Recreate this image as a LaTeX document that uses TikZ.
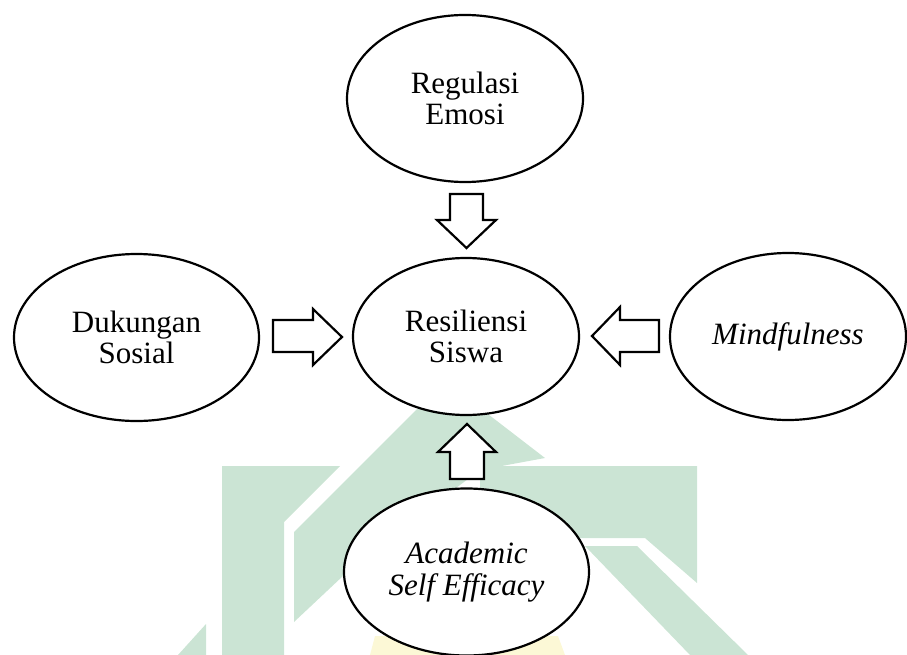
\documentclass[tikz,border=0pt]{standalone}
\usepackage{fontspec}
\setmainfont{Liberation Serif}
\usetikzlibrary{shapes.geometric}
\definecolor{wmgreen}{RGB}{203,228,212}
\definecolor{wmyellow}{RGB}{252,248,214}
\begin{document}
\begin{tikzpicture}[x=1pt,y=-1pt,
  ell/.style={ellipse, draw, line width=2.2pt, fill=white, inner sep=0pt, align=center,
              font=\fontsize{31}{31.5}\selectfont},
  blockarrow/.style={draw, line width=2.2pt, fill=white, line join=miter}]
\path[use as bounding box] (0,0) rectangle (907,655);
% watermark (faint logo)
\fill[wmgreen] (222,466) -- (340,466) -- (284,522) -- (284,655) -- (222,655) -- cycle;
\fill[wmgreen] (178,655) -- (206,624) -- (206,655) -- cycle;
\fill[wmgreen] (294,622) -- (294,532) -- (445,381) -- (545,458) -- (480,470) -- (360,560) -- cycle;
\fill[wmgreen] (480,466) -- (697,466) -- (697,583) -- (645,538) -- (560,538) -- (480,520) -- cycle;
\fill[wmgreen] (585,546) -- (637,546) -- (748,655) -- (690,655) -- cycle;
\fill[wmyellow] (375,636) -- (558,636) -- (565,655) -- (370,655) -- cycle;
% nodes
\node[ell, minimum width=236pt, minimum height=167pt] (reg) at (465,98.5) {Regulasi\\Emosi};
\node[ell, minimum width=226pt, minimum height=157pt] (res) at (466,336.5) {Resiliensi\\Siswa};
\node[ell, minimum width=245pt, minimum height=167pt] (duk) at (136.5,337.5) {Dukungan\\Sosial};
\node[ell, minimum width=236pt, minimum height=167pt] (min) at (788,336.5) {\itshape Mindfulness};
\node[ell, minimum width=245pt, minimum height=167pt] (ase) at (466.5,572) {\itshape Academic\\\itshape Self Efficacy};
% block arrows
\draw[blockarrow] (450,194) -- (483,194) -- (483,220) -- (496,220) -- (466.5,248) -- (437,220) -- (450,220) -- cycle;
\draw[blockarrow] (273,320) -- (313,320) -- (313,309) -- (342,337) -- (313,365) -- (313,352) -- (273,352) -- cycle;
\draw[blockarrow] (659,320) -- (620,320) -- (620,307) -- (592,336) -- (620,365) -- (620,352) -- (659,352) -- cycle;
\draw[blockarrow] (450,479) -- (450,452) -- (438,452) -- (467,424) -- (496,452) -- (484,452) -- (484,479) -- cycle;
\end{tikzpicture}
\end{document}
